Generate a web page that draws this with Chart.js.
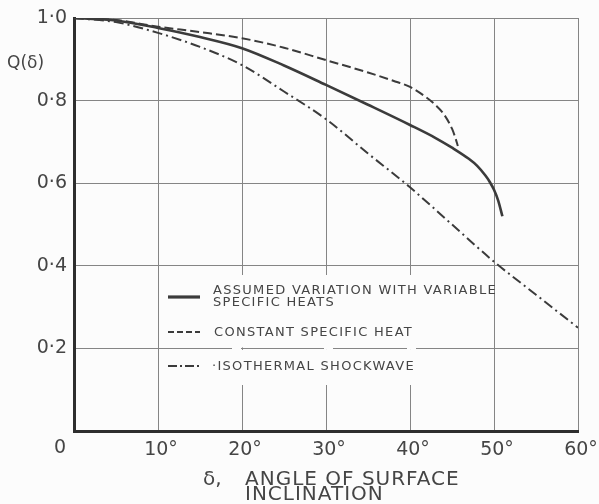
<!DOCTYPE html>
<html>
<head>
<meta charset="utf-8">
<script src="https://cdn.jsdelivr.net/npm/chart.js@4/dist/chart.umd.min.js"></script>
<style>
  html, body { margin: 0; padding: 0; background: #fcfcfc; }
  #wrap { width: 599px; height: 504px; position: relative; }
</style>
</head>
<body>
<div id="wrap"><canvas id="c"></canvas></div>
<script>
// Angle of surface inclination (degrees) and Q(δ) for each case
const variableAngle = [0, 5, 10, 15, 20, 25, 30, 35, 40, 43, 45, 47, 48, 49, 49.5, 50, 50.5, 51];
const variableQ     = [1.0, 0.994, 0.976, 0.954, 0.927, 0.885, 0.838, 0.79, 0.741, 0.71, 0.686, 0.659, 0.642, 0.618, 0.603, 0.584, 0.558, 0.52];

const constantAngle = [0, 5, 10, 15, 20, 25, 30, 35, 38, 40, 42, 43, 44, 45, 45.4, 45.7];
const constantQ     = [1.0, 0.995, 0.979, 0.966, 0.951, 0.928, 0.898, 0.868, 0.848, 0.833, 0.807, 0.79, 0.768, 0.732, 0.71, 0.69];

const isothermalAngle = [0, 5, 10, 15, 20, 25, 30, 35, 40, 45, 50, 55, 60];
const isothermalQ     = [1.0, 0.99, 0.964, 0.93, 0.886, 0.822, 0.755, 0.672, 0.59, 0.5, 0.41, 0.33, 0.25];

const xTickLabels = ['', '10°', '20°', '30°', '40°', '50°', '60°'];
const yTickLabels = ['', '0·2', '0·4', '0·6', '0·8', '1·0'];

const legendLines = [
  ['ASSUMED VARIATION WITH VARIABLE', 'SPECIFIC HEATS'],
  ['CONSTANT SPECIFIC HEAT'],
  ['·ISOTHERMAL SHOCKWAVE']
];

const ink = '#3b3b3b';
const textInk = '#454545';
const gridInk = '#858585';
const paper = '#fcfcfc';

function pts(xs, ys) { return xs.map((x, i) => ({ x: x, y: ys[i] })); }

const styles = [
  { width: 2.6, dash: [] },
  { width: 2.0, dash: [9, 4] },
  { width: 2.0, dash: [10, 4, 2, 4] }
];

const annotate = {
  id: 'annotate',
  afterDraw(chart) {
    const { ctx, scales: { x, y } } = chart;
    ctx.save();
    ctx.fillStyle = textInk;

    // origin label shared by both axes
    ctx.font = '19px "DejaVu Sans"';
    ctx.textAlign = 'center';
    ctx.textBaseline = 'middle';
    ctx.fillText('0', 60, 448);

    // y-axis title
    ctx.font = '17px "DejaVu Sans"';
    ctx.textAlign = 'left';
    ctx.fillText('Q(δ)', 7, 64);

    // x-axis title (two lines)
    ctx.font = '20px "DejaVu Sans"';
    ctx.letterSpacing = '0px';
    ctx.textBaseline = 'alphabetic';
    ctx.fillText('δ,', 203, 485);
    ctx.letterSpacing = '1px';
    ctx.fillText('ANGLE OF SURFACE', 245, 485);
    ctx.fillText('INCLINATION', 245, 500);

    // legend panel: blank out the vertical grid lines behind it, keep the 0.2 line
    const top = 275, bottom = 385, left = 165, right = 489;
    const g = y.getPixelForValue(0.2);
    ctx.fillStyle = paper;
    ctx.fillRect(left, top, right - left, g - 1 - top);
    ctx.fillRect(left, g + 1.5, right - left, bottom - g - 1.5);
    // small breaks in the 0.2 line under the legend
    [232, 324, 407].forEach(bx => ctx.fillRect(bx, g - 1.5, 9, 3));

    const rows = [297, 332, 366];
    ctx.font = '13px "DejaVu Sans"';
    ctx.letterSpacing = '1.3px';
    ctx.textAlign = 'left';
    rows.forEach((ry, i) => {
      ctx.strokeStyle = ink;
      ctx.lineWidth = styles[i].width + (i === 0 ? 0.6 : 0);
      ctx.setLineDash(styles[i].dash.length ? (i === 1 ? [6, 3] : [9, 3, 2, 3]) : []);
      ctx.beginPath();
      ctx.moveTo(168, ry);
      ctx.lineTo(200, ry);
      ctx.stroke();
      ctx.setLineDash([]);
      ctx.fillStyle = textInk;
      const lines = legendLines[i];
      if (lines.length === 2) {
        ctx.textBaseline = 'alphabetic';
        ctx.fillText(lines[0], 213, 294);
        ctx.fillText(lines[1], 213, 306);
      } else {
        ctx.textBaseline = 'middle';
        ctx.fillText(lines[0], i === 2 ? 212 : 214, ry + 1);
      }
    });
    ctx.restore();
  }
};

new Chart(document.getElementById('c'), {
  type: 'line',
  data: {
    datasets: [
      { label: legendLines[0].join(' '), data: pts(variableAngle, variableQ) },
      { label: legendLines[1][0], data: pts(constantAngle, constantQ) },
      { label: legendLines[2][0], data: pts(isothermalAngle, isothermalQ) }
    ].map((d, i) => Object.assign(d, {
      borderColor: ink,
      borderWidth: styles[i].width,
      borderDash: styles[i].dash,
      pointRadius: 0,
      fill: false,
      cubicInterpolationMode: 'monotone'
    }))
  },
  options: {
    responsive: true,
    maintainAspectRatio: false,
    animation: false,
    layout: { padding: { top: 18, right: 21, left: 0, bottom: 0 } },
    plugins: { legend: { display: false }, tooltip: { enabled: false } },
    scales: {
      x: {
        type: 'linear', min: 0, max: 60,
        afterFit(s) { s.height = 73; s.paddingLeft = 0; s.paddingRight = 0; },
        grid: { color: gridInk, lineWidth: 1, drawTicks: false },
        border: { color: '#2e2e2e', width: 3 },
        ticks: {
          stepSize: 10, padding: 8, color: textInk,
          font: { family: 'DejaVu Sans', size: 19 },
          maxRotation: 0, labelOffset: 3,
          callback: (v) => xTickLabels[Math.round(v / 10)]
        }
      },
      y: {
        type: 'linear', min: 0, max: 1,
        afterFit(s) { s.width = 74; s.paddingTop = 0; s.paddingBottom = 0; },
        grid: { color: gridInk, lineWidth: 1, drawTicks: false },
        border: { color: '#2e2e2e', width: 3 },
        ticks: {
          stepSize: 0.2, padding: 7, color: textInk,
          font: { family: 'DejaVu Sans', size: 19 },
          callback: (v) => yTickLabels[Math.round(v * 5)]
        }
      }
    }
  },
  plugins: [annotate]
});
</script>
</body>
</html>
